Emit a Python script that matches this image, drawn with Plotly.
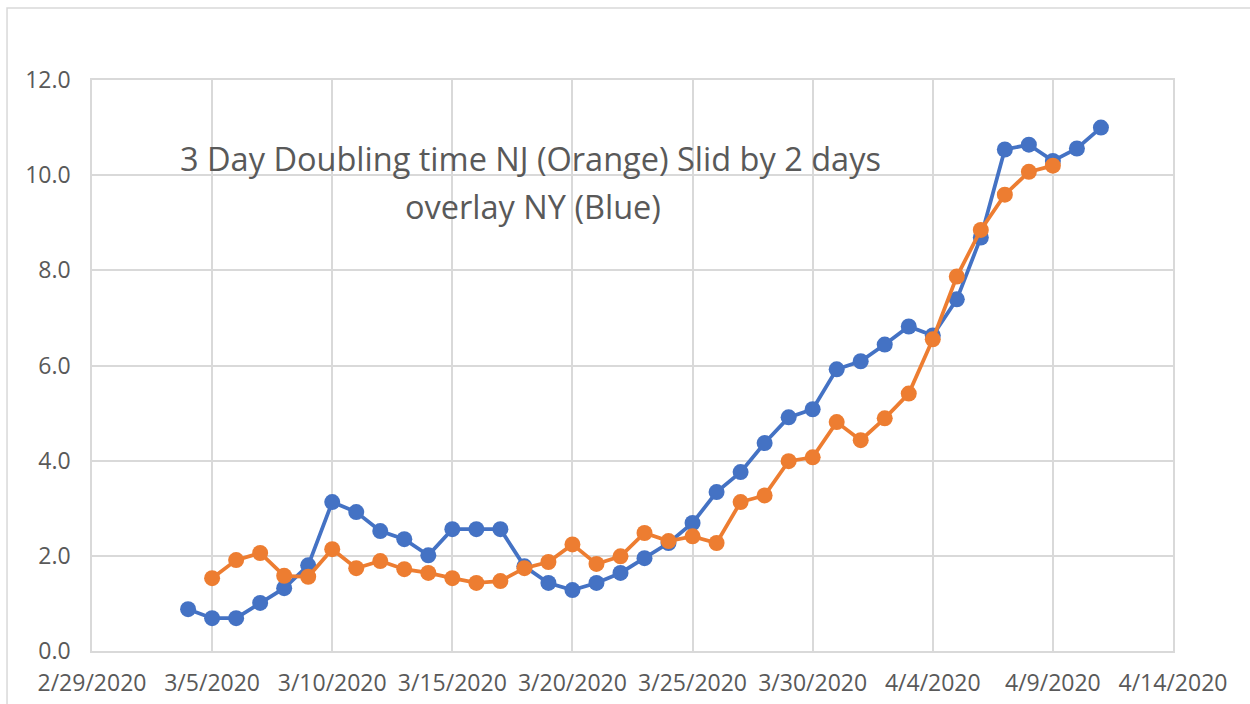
import plotly.graph_objects as go

# ---- data ----
ny_dates = ["2020-03-04", "2020-03-05", "2020-03-06", "2020-03-07", "2020-03-08", "2020-03-09",
            "2020-03-10", "2020-03-11", "2020-03-12", "2020-03-13", "2020-03-14", "2020-03-15",
            "2020-03-16", "2020-03-17", "2020-03-18", "2020-03-19", "2020-03-20", "2020-03-21",
            "2020-03-22", "2020-03-23", "2020-03-24", "2020-03-25", "2020-03-26", "2020-03-27",
            "2020-03-28", "2020-03-29", "2020-03-30", "2020-03-31", "2020-04-01", "2020-04-02",
            "2020-04-03", "2020-04-04", "2020-04-05", "2020-04-06", "2020-04-07", "2020-04-08",
            "2020-04-09", "2020-04-10", "2020-04-11"]
ny_values = [0.88, 0.69, 0.69, 1.01, 1.32, 1.80, 3.13, 2.92, 2.52, 2.35, 2.01, 2.56,
             2.56, 2.56, 1.78, 1.43, 1.28, 1.43, 1.64, 1.95, 2.27, 2.69, 3.34, 3.76,
             4.37, 4.91, 5.08, 5.92, 6.09, 6.44, 6.82, 6.63, 7.39, 8.69, 10.54, 10.64,
             10.30, 10.56, 11.00]

nj_dates = ["2020-03-05", "2020-03-06", "2020-03-07", "2020-03-08", "2020-03-09",
            "2020-03-10", "2020-03-11", "2020-03-12", "2020-03-13", "2020-03-14", "2020-03-15",
            "2020-03-16", "2020-03-17", "2020-03-18", "2020-03-19", "2020-03-20", "2020-03-21",
            "2020-03-22", "2020-03-23", "2020-03-24", "2020-03-25", "2020-03-26", "2020-03-27",
            "2020-03-28", "2020-03-29", "2020-03-30", "2020-03-31", "2020-04-01", "2020-04-02",
            "2020-04-03", "2020-04-04", "2020-04-05", "2020-04-06", "2020-04-07", "2020-04-08",
            "2020-04-09"]
nj_values = [1.53, 1.91, 2.06, 1.58, 1.56, 2.14, 1.74, 1.89, 1.72, 1.64, 1.53,
             1.43, 1.47, 1.74, 1.87, 2.24, 1.83, 1.99, 2.48, 2.31, 2.41, 2.27, 3.13,
             3.27, 3.99, 4.07, 4.81, 4.43, 4.89, 5.41, 6.55, 7.87, 8.85, 9.59, 10.07,
             10.20]

x_tick_vals = ["2020-02-29", "2020-03-05", "2020-03-10", "2020-03-15", "2020-03-20",
               "2020-03-25", "2020-03-30", "2020-04-04", "2020-04-09", "2020-04-14"]
x_tick_text = ["2/29/2020", "3/5/2020", "3/10/2020", "3/15/2020", "3/20/2020",
               "3/25/2020", "3/30/2020", "4/4/2020", "4/9/2020", "4/14/2020"]
y_tick_vals = [0, 2, 4, 6, 8, 10, 12]
y_tick_text = ["0.0", "2.0", "4.0", "6.0", "8.0", "10.0", "12.0"]

title_lines = ["3 Day Doubling time NJ (Orange) Slid by 2 days", "overlay NY (Blue)"]

BLUE = "#4472C4"
ORANGE = "#ED7D31"
GRID = "#D9D9D9"
TEXT = "#595959"
FONT = "Open Sans, Noto Sans, sans-serif"

fig = go.Figure()
fig.add_trace(go.Scatter(x=ny_dates, y=ny_values, mode="lines+markers", name="NY",
                         line=dict(color=BLUE, width=3.75),
                         marker=dict(color=BLUE, size=16)))
fig.add_trace(go.Scatter(x=nj_dates, y=nj_values, mode="lines+markers", name="NJ",
                         line=dict(color=ORANGE, width=3.75),
                         marker=dict(color=ORANGE, size=16)))

fig.update_layout(
    width=1250, height=704,
    margin=dict(l=92, r=77, t=80, b=53),
    paper_bgcolor="white", plot_bgcolor="white",
    showlegend=False,
    font=dict(family=FONT, color=TEXT, size=23),
    xaxis=dict(type="date", range=["2020-02-29", "2020-04-14"],
               tickmode="array", tickvals=x_tick_vals, ticktext=x_tick_text,
               showgrid=True, gridcolor=GRID, gridwidth=1.5,
               showline=True, linecolor=GRID, linewidth=1.5, mirror=True,
               ticks="outside", ticklen=11, tickcolor="rgba(0,0,0,0)", automargin=False,
               tickfont=dict(family=FONT, color=TEXT, size=23), zeroline=False),
    yaxis=dict(range=[0, 12], tickmode="array", tickvals=y_tick_vals, ticktext=y_tick_text,
               showgrid=True, gridcolor=GRID, gridwidth=1.5,
               showline=True, linecolor=GRID, linewidth=1.5, mirror=True,
               ticks="outside", ticklen=15, tickcolor="rgba(0,0,0,0)", automargin=False,
               tickfont=dict(family=FONT, color=TEXT, size=23), zeroline=False),
)

fig.add_annotation(text=title_lines[0], xref="paper", yref="paper", x=0.406, y=0.862,
                   showarrow=False, xanchor="center", yanchor="middle",
                   font=dict(family=FONT, size=32.5, color=TEXT))
fig.add_annotation(text=title_lines[1], xref="paper", yref="paper", x=0.408, y=0.778,
                   showarrow=False, xanchor="center", yanchor="middle",
                   font=dict(family=FONT, size=32.5, color=TEXT))

# outer chart frame (light border)
fig.add_shape(type="rect", xref="paper", yref="paper",
              x0=-0.0786, x1=1.2, y0=-0.2, y1=1.126,
              line=dict(color=GRID, width=1.5), fillcolor="rgba(0,0,0,0)", layer="below")

fig.write_html("out.html", config={"displayModeBar": False},
               post_script="document.body.style.margin='0px';")
